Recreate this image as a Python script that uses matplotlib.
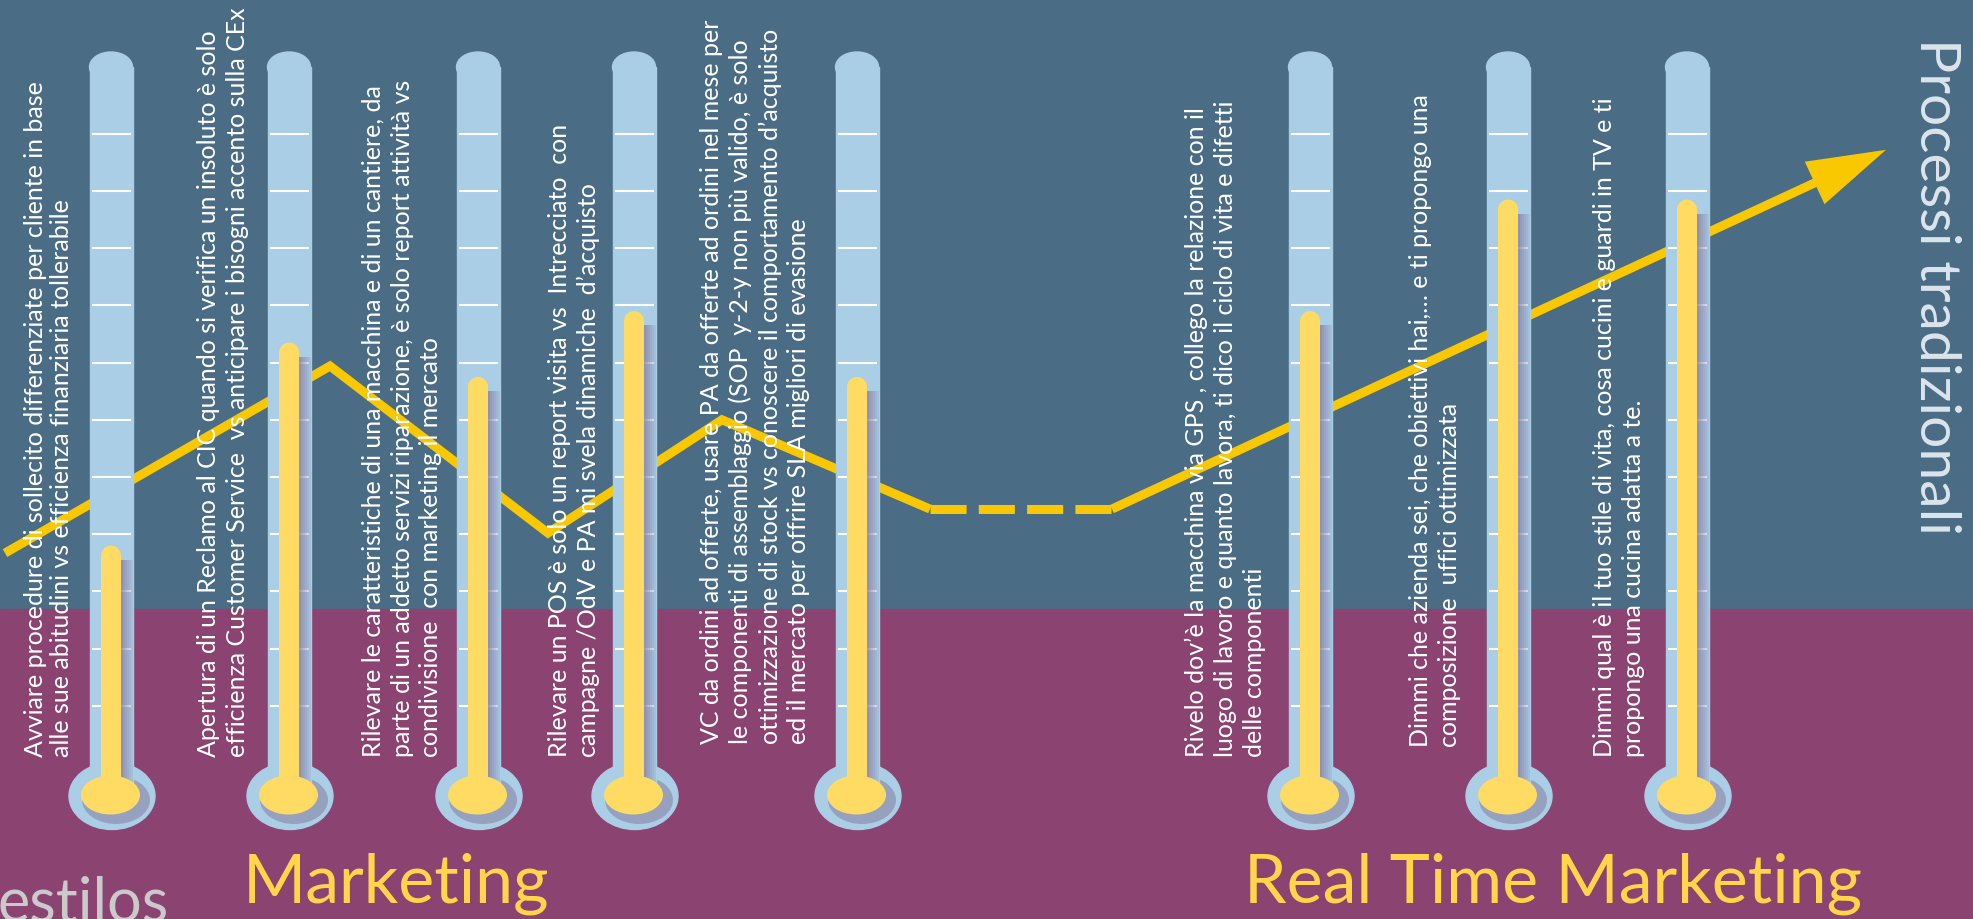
import matplotlib
matplotlib.use("Agg")
import matplotlib.pyplot as plt
from matplotlib.patches import Rectangle, Ellipse, FancyArrowPatch

# -- chart values
labels = [
    "Avviare procedure di sollecito differenziate per cliente in base\n"
    "alle sue abitudini vs efficienza finanziaria tollerabile",
    "Apertura di un Reclamo al CIC quando si verifica un insoluto è solo\n"
    "efficienza Customer Service  vs anticipare i bisogni accento sulla CEx",
    "Rilevare le caratteristiche di una macchina e di un cantiere, da\n"
    "parte di un addetto servizi riparazione, è solo report attività vs\n"
    "condivisione  con marketing il mercato",
    "Rilevare un POS è solo un report visita vs  Intrecciato  con\n"
    "campagne /OdV e PA mi svela dinamiche  d’acquisto",
    "VC da ordini ad offerte, usare PA da offerte ad ordini nel mese per\n"
    "le componenti di assemblaggio (SOP  y-2-y non più valido, è solo\n"
    "ottimizzazione di stock vs conoscere il comportamento d’acquisto\n"
    "ed il mercato per offrire SLA migliori di evasione",
    "Rivelo dov’è la macchina via GPS , collego la relazione con il\n"
    "luogo di lavoro e quanto lavora, ti dico il ciclo di vita e difetti\n"
    "delle componenti",
    "Dimmi che azienda sei, che obiettivi hai,… e ti propongo una\n"
    "composizione  uffici ottimizzata",
    "Dimmi qual è il tuo stile di vita, cosa cucini e guardi in TV e ti\n"
    "propongo una cucina adatta a te.",
]
levels = [3.8, 7.35, 6.75, 7.9, 6.75, 7.9, 9.85, 9.85]   # thermometer fill, in tick units

trend_x = [5, 330, 548, 722, 930]
trend_y = [3.67, 6.94, 4.02, 6.0, 4.44]
gap_x = [930, 1112]
gap_y = [4.44, 4.44]
arrow_x = [1112, 1886]
arrow_y = [4.44, 10.72]

group_titles = ["Marketing", "Real Time Marketing"]
side_title = "Processi tradizionali"
logo = "estilos"

# -- layout (pixels of the 1973x920 canvas)
W, H = 1973, 920
BASE, STEP = 764.0, 57.2          # pixel y of level 0, pixels per tick
slot_x = [111, 289, 478, 634, 857, 1310, 1508, 1687]
text_x = [24, 197, 362, 548, 700, 1185, 1409, 1593]
text_y = [757, 757, 757, 757, 744, 757, 747, 757]
text_ls = [1.15, 1.3, 1.3, 1.3, 1.3, 1.3, 1.3, 1.3]

BLUE, PURPLE = "#4A6C85", "#8B4371"
TUBE, FILL, GOLD = "#AACEE6", "#FFDB63", "#F9C800"
SHADE = "#8A84A8"


def lv(py):
    return (BASE - py) / STEP


plt.rcParams["font.family"] = ["Lato", "DejaVu Sans"]
fig = plt.figure(figsize=(W / 100, H / 100), dpi=100)
ax = fig.add_axes([0, 0, 1, 1])
ax.set_xlim(0, W)
ax.set_ylim(lv(H), lv(0))
ax.axis("off")

# -- background bands
ax.add_patch(Rectangle((0, lv(610)), W, lv(0) - lv(610), color=BLUE, zorder=0))
ax.add_patch(Rectangle((0, lv(H)), W, lv(610) - lv(H), color=PURPLE, zorder=0))

# -- trend line behind the thermometers
lw = 6.5
ax.plot(trend_x, trend_y, color=GOLD, lw=lw, solid_joinstyle="miter",
        solid_capstyle="butt", zorder=1)
ax.plot(gap_x, gap_y, color=GOLD, lw=lw, dashes=(4.0, 1.35),
        dash_capstyle="butt", zorder=1)
ax.add_patch(FancyArrowPatch((arrow_x[0], arrow_y[0]), (arrow_x[1], arrow_y[1]),
                             arrowstyle="-|>,head_length=42,head_width=12.5",
                             mutation_scale=1, lw=lw, color=GOLD,
                             shrinkA=0, shrinkB=0, zorder=1,
                             joinstyle="miter", capstyle="butt"))

# -- thermometers
tw = 43
for x0, lev in zip(slot_x, levels):
    # bulb
    ax.add_patch(Ellipse((x0 + 1, lv(797)), 86, 67 / STEP, color=TUBE, zorder=2))
    ax.add_patch(Ellipse((x0 + 5, lv(801)), 68, 48 / STEP, color=SHADE,
                         alpha=0.6, lw=0, zorder=2.1))
    # tube with rounded top
    ax.add_patch(Rectangle((x0 - tw / 2, lv(790)), tw, lv(68) - lv(790),
                           color=TUBE, zorder=2.2))
    ax.add_patch(Ellipse((x0, lv(68)), tw, 30 / STEP, color=TUBE, zorder=2.2))
    for k in range(1, 12):
        ax.plot([x0 - 19.5, x0 + 19.5], [k, k], color="white", lw=1.5,
                solid_capstyle="butt", zorder=2.3)
    # shadow right of the column
    for i in range(6):
        ax.add_patch(Rectangle((x0 + 10 + 2 * i, lv(790)), 2,
                               lev - 0.25 - lv(790), color=SHADE,
                               alpha=0.8 - 0.12 * i, lw=0, zorder=2.4))
    # column
    r = 10 / STEP
    ax.add_patch(Rectangle((x0 - 10, lv(795)), 20, lev - r - lv(795),
                           color=FILL, lw=0, zorder=2.5))
    ax.add_patch(Ellipse((x0, lev - r), 20, 2 * r, color=FILL, lw=0, zorder=2.5))
    ax.add_patch(Ellipse((x0 - 0.5, lv(796)), 59, 39 / STEP, color=FILL,
                         lw=0, zorder=2.6))

# -- texts
for s, tx, ty, ls in zip(labels, text_x, text_y, text_ls):
    ax.text(tx, lv(ty), s, rotation=90, rotation_mode="anchor", ha="left",
            va="top", color="white", fontsize=18, linespacing=ls,
            multialignment="left", zorder=3)

ax.text(1961, lv(38), side_title, rotation=-90, rotation_mode="anchor",
        ha="left", va="top", color="#DCE4EC", fontsize=41, zorder=3)
ax.text(243, lv(903), group_titles[0], color="#FFD54A", fontsize=49,
        ha="left", va="baseline", zorder=3)
ax.text(1244, lv(903), group_titles[1], color="#FFD54A", fontsize=49,
        ha="left", va="baseline", zorder=3)
ax.text(-3, lv(922), logo, color="#CACACA", fontsize=44, ha="left",
        va="baseline", zorder=3)

fig.savefig("out.png", dpi=100)
